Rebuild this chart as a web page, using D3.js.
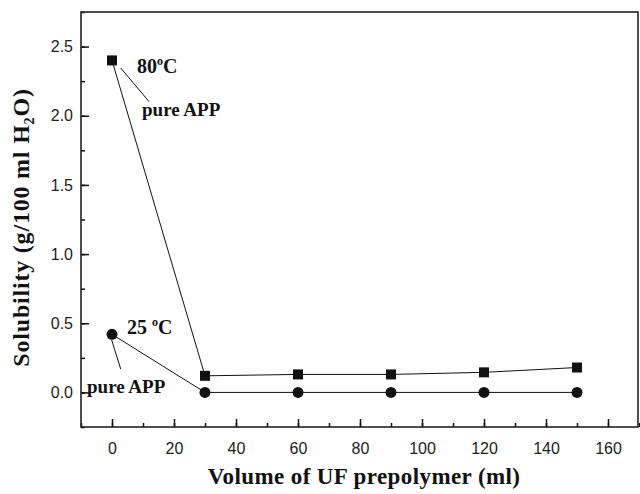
<!DOCTYPE html>
<html>
<head>
<meta charset="utf-8">
<script src="https://cdn.jsdelivr.net/npm/d3@7"></script>
<style>
  body { margin: 0; background: #fff; }
  .tick text { font-family: "Liberation Sans", Arial, sans-serif; font-size: 16px; fill: #222; }
  .lbl { font-family: "Liberation Serif", "Times New Roman", serif; font-weight: bold; fill: #111; }
</style>
</head>
<body>
<script>
// data
const volume = [0, 30, 60, 90, 120, 150];
const sol80 = [2.40, 0.12, 0.13, 0.13, 0.145, 0.18];
const sol25 = [0.42, 0.0, 0.0, 0.0, 0.0, 0.0];
const xTicks = [0, 20, 40, 60, 80, 100, 120, 140, 160];
const yTicks = [0.0, 0.5, 1.0, 1.5, 2.0, 2.5];

const width = 640, height = 494;
const margin = {top: 12, right: 1, bottom: 67, left: 81};

const svg = d3.select("body").append("svg")
    .attr("width", width)
    .attr("height", height);

const x = d3.scaleLinear().domain([-10, 170]).range([margin.left, width - margin.right]);
const y = d3.scaleLinear().domain([-0.25, 2.75]).range([height - margin.bottom, margin.top]);

// minor ticks
svg.append("g")
    .attr("transform", `translate(0,${y(-0.25)})`)
    .call(d3.axisBottom(x).tickValues(d3.range(-10, 171, 10)).tickSize(-4).tickFormat(""))
    .call(g => g.select(".domain").remove());
svg.append("g")
    .attr("transform", `translate(${x(-10)},0)`)
    .call(d3.axisLeft(y).tickValues(d3.range(-0.25, 2.76, 0.25)).tickSize(-4).tickFormat(""))
    .call(g => g.select(".domain").remove());

// major ticks
svg.append("g")
    .attr("transform", `translate(0,${y(-0.25)})`)
    .call(d3.axisBottom(x).tickValues(xTicks).tickSize(-8).tickPadding(16).tickFormat(d3.format("d")))
    .call(g => g.select(".domain").remove());
svg.append("g")
    .attr("transform", `translate(${x(-10)},0)`)
    .call(d3.axisLeft(y).tickValues(yTicks).tickSize(-8).tickPadding(8).tickFormat(d3.format(".1f")))
    .call(g => g.select(".domain").remove());

svg.selectAll(".tick line").attr("stroke", "#111").attr("stroke-width", 1.5);

// frame
svg.append("rect")
    .attr("x", x(-10)).attr("y", y(2.75))
    .attr("width", x(170) - x(-10) - 1)
    .attr("height", y(-0.25) - y(2.75))
    .attr("fill", "none")
    .attr("stroke", "#222")
    .attr("stroke-width", 1.6);

const line = d3.line().x(d => x(d[0])).y(d => y(d[1]));
const pts80 = volume.map((v, i) => [v, sol80[i]]);
const pts25 = volume.map((v, i) => [v, sol25[i]]);

[pts80, pts25].forEach(p => {
    svg.append("path").datum(p)
        .attr("d", line)
        .attr("fill", "none")
        .attr("stroke", "#111")
        .attr("stroke-width", 1);
});

svg.selectAll(".sq").data(pts80).enter().append("rect")
    .attr("x", d => x(d[0]) - 5)
    .attr("y", d => y(d[1]) - 5)
    .attr("width", 10).attr("height", 10)
    .attr("fill", "#111");

svg.selectAll(".ci").data(pts25).enter().append("circle")
    .attr("cx", d => x(d[0]))
    .attr("cy", d => y(d[1]))
    .attr("r", 5.5)
    .attr("fill", "#111");

// annotations
function tempLabel(tx, ty, num) {
    const t = svg.append("text").attr("class", "lbl").attr("x", tx).attr("y", ty).attr("font-size", 20);
    t.append("tspan").text(num);
    t.append("tspan").attr("font-size", 12).attr("dy", -8).text("o");
    t.append("tspan").attr("dy", 8).text("C");
}
tempLabel(137, 73, "80");
tempLabel(127, 334, "25 ");

svg.append("text").attr("class", "lbl").attr("x", 142).attr("y", 116).attr("font-size", 19).text("pure APP");
svg.append("text").attr("class", "lbl").attr("x", 87).attr("y", 393).attr("font-size", 19).text("pure APP");

svg.append("line").attr("x1", 120.7).attr("y1", 68).attr("x2", 149).attr("y2", 101.5)
    .attr("stroke", "#111").attr("stroke-width", 1);
svg.append("line").attr("x1", 111.7).attr("y1", 340).attr("x2", 120.7).attr("y2", 369)
    .attr("stroke", "#111").attr("stroke-width", 1);

// axis titles
svg.append("text").attr("class", "lbl")
    .attr("x", (x(-10) + x(170)) / 2 + 4).attr("y", 484)
    .attr("text-anchor", "middle").attr("font-size", 23)
    .attr("letter-spacing", 0.4)
    .text("Volume of UF prepolymer (ml)");

const yt = svg.append("text").attr("class", "lbl")
    .attr("transform", `translate(29,${(y(-0.25) + y(2.75)) / 2 + 8}) rotate(-90)`)
    .attr("text-anchor", "middle").attr("font-size", 24)
    .attr("letter-spacing", 0.8);
yt.append("tspan").text("Solubility (g/100 ml H");
yt.append("tspan").attr("font-size", 14).attr("dy", 5).text("2");
yt.append("tspan").attr("dy", -5).text("O)");
</script>
</body>
</html>
